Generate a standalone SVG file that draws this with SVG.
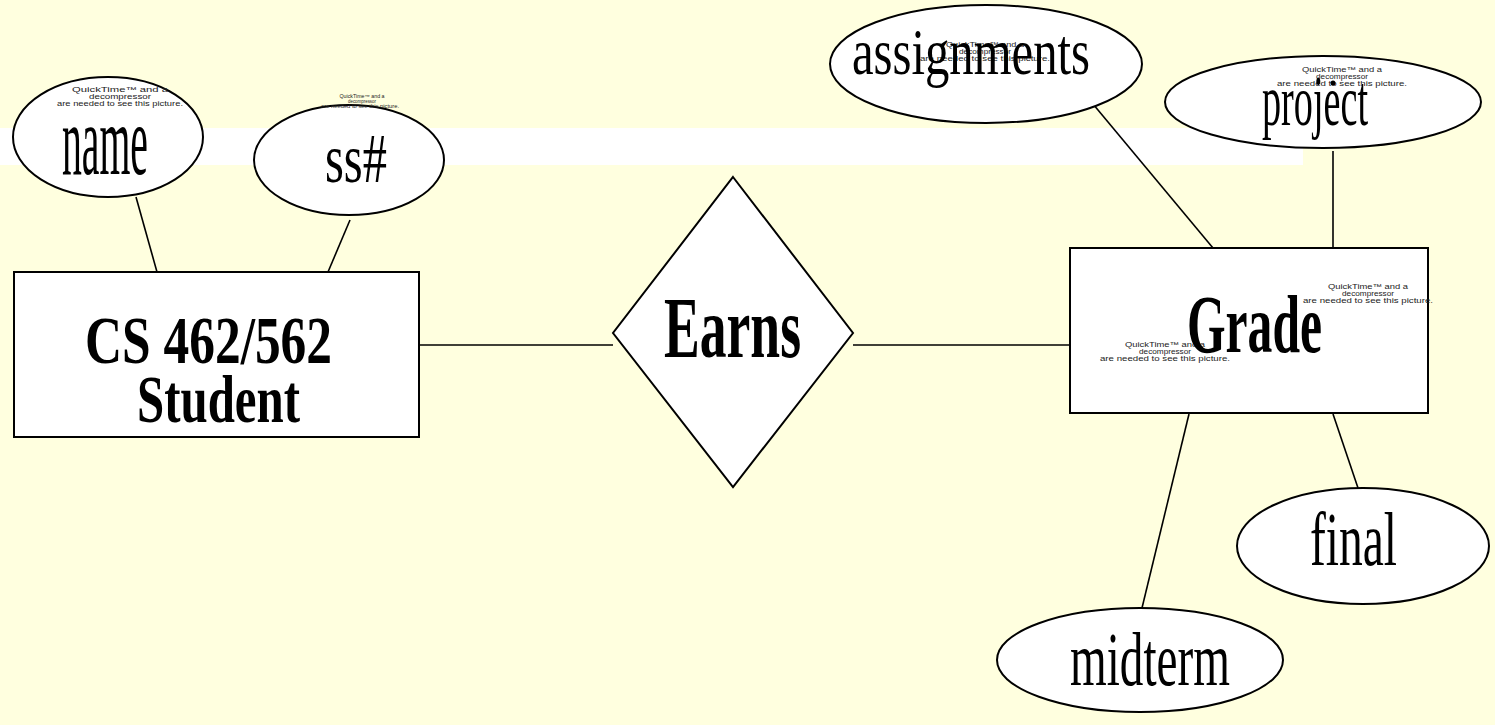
<svg xmlns="http://www.w3.org/2000/svg" width="1495" height="725" viewBox="0 0 1495 725">
  <style>
    .shape { fill: #ffffff; stroke: #000000; stroke-width: 2; }
    .link { stroke: #000000; stroke-width: 1.6; fill: none; }
    .attr { font-family: "Liberation Serif", "Times New Roman", serif; fill: #000000; }
    .ent { font-family: "Liberation Serif", "Times New Roman", serif; font-weight: bold; fill: #000000; }
    .qt { font-family: "Liberation Sans", Arial, sans-serif; fill: #222222; text-anchor: middle; }
  </style>

  <!-- page background and the pale band behind the top attributes -->
  <rect x="0" y="0" width="1495" height="725" fill="#ffffdf"/>
  <rect x="0" y="128" width="1303" height="37" fill="#ffffff"/>

  <!-- connectors -->
  <g id="connectors">
    <line class="link" x1="136" y1="197" x2="157" y2="272"/>
    <line class="link" x1="350" y1="220" x2="328" y2="272"/>
    <line class="link" x1="419" y1="345" x2="613" y2="345"/>
    <line class="link" x1="853" y1="345" x2="1070" y2="345"/>
    <line class="link" x1="1093" y1="104" x2="1213" y2="248"/>
    <line class="link" x1="1333" y1="151" x2="1333" y2="248"/>
    <line class="link" x1="1189" y1="414" x2="1142" y2="608"/>
    <line class="link" x1="1333" y1="414" x2="1358" y2="488"/>
  </g>

  <g id="attr-name">
    <ellipse class="shape" cx="108" cy="137" rx="95" ry="60"/>
    <text class="qt" x="120" y="92" font-size="7" textLength="96" lengthAdjust="spacingAndGlyphs">QuickTime™ and a</text>
    <text class="qt" x="120" y="99" font-size="7" textLength="62" lengthAdjust="spacingAndGlyphs">decompressor</text>
    <text class="qt" x="120" y="106" font-size="7" textLength="126" lengthAdjust="spacingAndGlyphs">are needed to see this picture.</text>
    <text class="attr" x="62" y="174" font-size="99" textLength="86" lengthAdjust="spacingAndGlyphs">name</text>
  </g>

  <g id="attr-ssn">
    <text class="qt" x="362" y="98" font-size="4.5" textLength="45" lengthAdjust="spacingAndGlyphs">QuickTime™ and a</text>
    <text class="qt" x="362" y="103" font-size="4.5" textLength="28" lengthAdjust="spacingAndGlyphs">decompressor</text>
    <ellipse class="shape" cx="349" cy="160" rx="95" ry="55"/>
    <text class="qt" x="360" y="108" font-size="4.5" textLength="78" lengthAdjust="spacingAndGlyphs">are needed to see this picture.</text>
    <text class="attr" x="325" y="182" font-size="70" textLength="62" lengthAdjust="spacingAndGlyphs">ss#</text>
  </g>

  <g id="entity-student">
    <rect class="shape" x="14" y="272" width="405" height="165"/>
    <text class="ent" x="85" y="363" font-size="68" textLength="247" lengthAdjust="spacingAndGlyphs">CS 462/562</text>
    <text class="ent" x="137" y="422" font-size="68" textLength="163" lengthAdjust="spacingAndGlyphs">Student</text>
  </g>

  <g id="rel-earns">
    <polygon class="shape" points="733,177 853,333 733,487 613,333"/>
    <text class="ent" x="664" y="357" font-size="86" textLength="137" lengthAdjust="spacingAndGlyphs">Earns</text>
  </g>

  <g id="attr-assignments">
    <ellipse class="shape" cx="986" cy="64" rx="156" ry="59"/>
    <text class="qt" x="985" y="47" font-size="7" textLength="78" lengthAdjust="spacingAndGlyphs">QuickTime™ and a</text>
    <text class="qt" x="985" y="54" font-size="7" textLength="52" lengthAdjust="spacingAndGlyphs">decompressor</text>
    <text class="qt" x="985" y="61" font-size="7" textLength="130" lengthAdjust="spacingAndGlyphs">are needed to see this picture.</text>
    <text class="attr" x="852" y="74" font-size="65" textLength="238" lengthAdjust="spacingAndGlyphs">assignments</text>
  </g>

  <g id="attr-project">
    <ellipse class="shape" cx="1323" cy="102" rx="158" ry="46"/>
    <text class="qt" x="1342" y="72" font-size="7" textLength="80" lengthAdjust="spacingAndGlyphs">QuickTime™ and a</text>
    <text class="qt" x="1342" y="79" font-size="7" textLength="52" lengthAdjust="spacingAndGlyphs">decompressor</text>
    <text class="qt" x="1342" y="86" font-size="7" textLength="130" lengthAdjust="spacingAndGlyphs">are needed to see this picture.</text>
    <circle cx="1333" cy="83" r="2.5" fill="#000000"/>
    <text class="attr" x="1262" y="125" font-size="72" textLength="106" lengthAdjust="spacingAndGlyphs">project</text>
  </g>

  <g id="entity-grade">
    <rect class="shape" x="1070" y="248" width="358" height="165"/>
    <text class="qt" x="1368" y="289" font-size="7" textLength="80" lengthAdjust="spacingAndGlyphs">QuickTime™ and a</text>
    <text class="qt" x="1368" y="296" font-size="7" textLength="52" lengthAdjust="spacingAndGlyphs">decompressor</text>
    <text class="qt" x="1368" y="303" font-size="7" textLength="130" lengthAdjust="spacingAndGlyphs">are needed to see this picture.</text>
    <text class="qt" x="1165" y="347" font-size="7" textLength="80" lengthAdjust="spacingAndGlyphs">QuickTime™ and a</text>
    <text class="qt" x="1165" y="354" font-size="7" textLength="52" lengthAdjust="spacingAndGlyphs">decompressor</text>
    <text class="qt" x="1165" y="361" font-size="7" textLength="130" lengthAdjust="spacingAndGlyphs">are needed to see this picture.</text>
    <text class="ent" x="1187" y="352" font-size="83" textLength="135" lengthAdjust="spacingAndGlyphs">Grade</text>
  </g>

  <g id="attr-midterm">
    <ellipse class="shape" cx="1140" cy="660" rx="143" ry="52"/>
    <text class="attr" x="1070" y="685" font-size="76" textLength="160" lengthAdjust="spacingAndGlyphs">midterm</text>
  </g>

  <g id="attr-final">
    <ellipse class="shape" cx="1363" cy="546" rx="126" ry="58"/>
    <text class="attr" x="1310" y="565" font-size="76" textLength="87" lengthAdjust="spacingAndGlyphs">final</text>
  </g>
</svg>
